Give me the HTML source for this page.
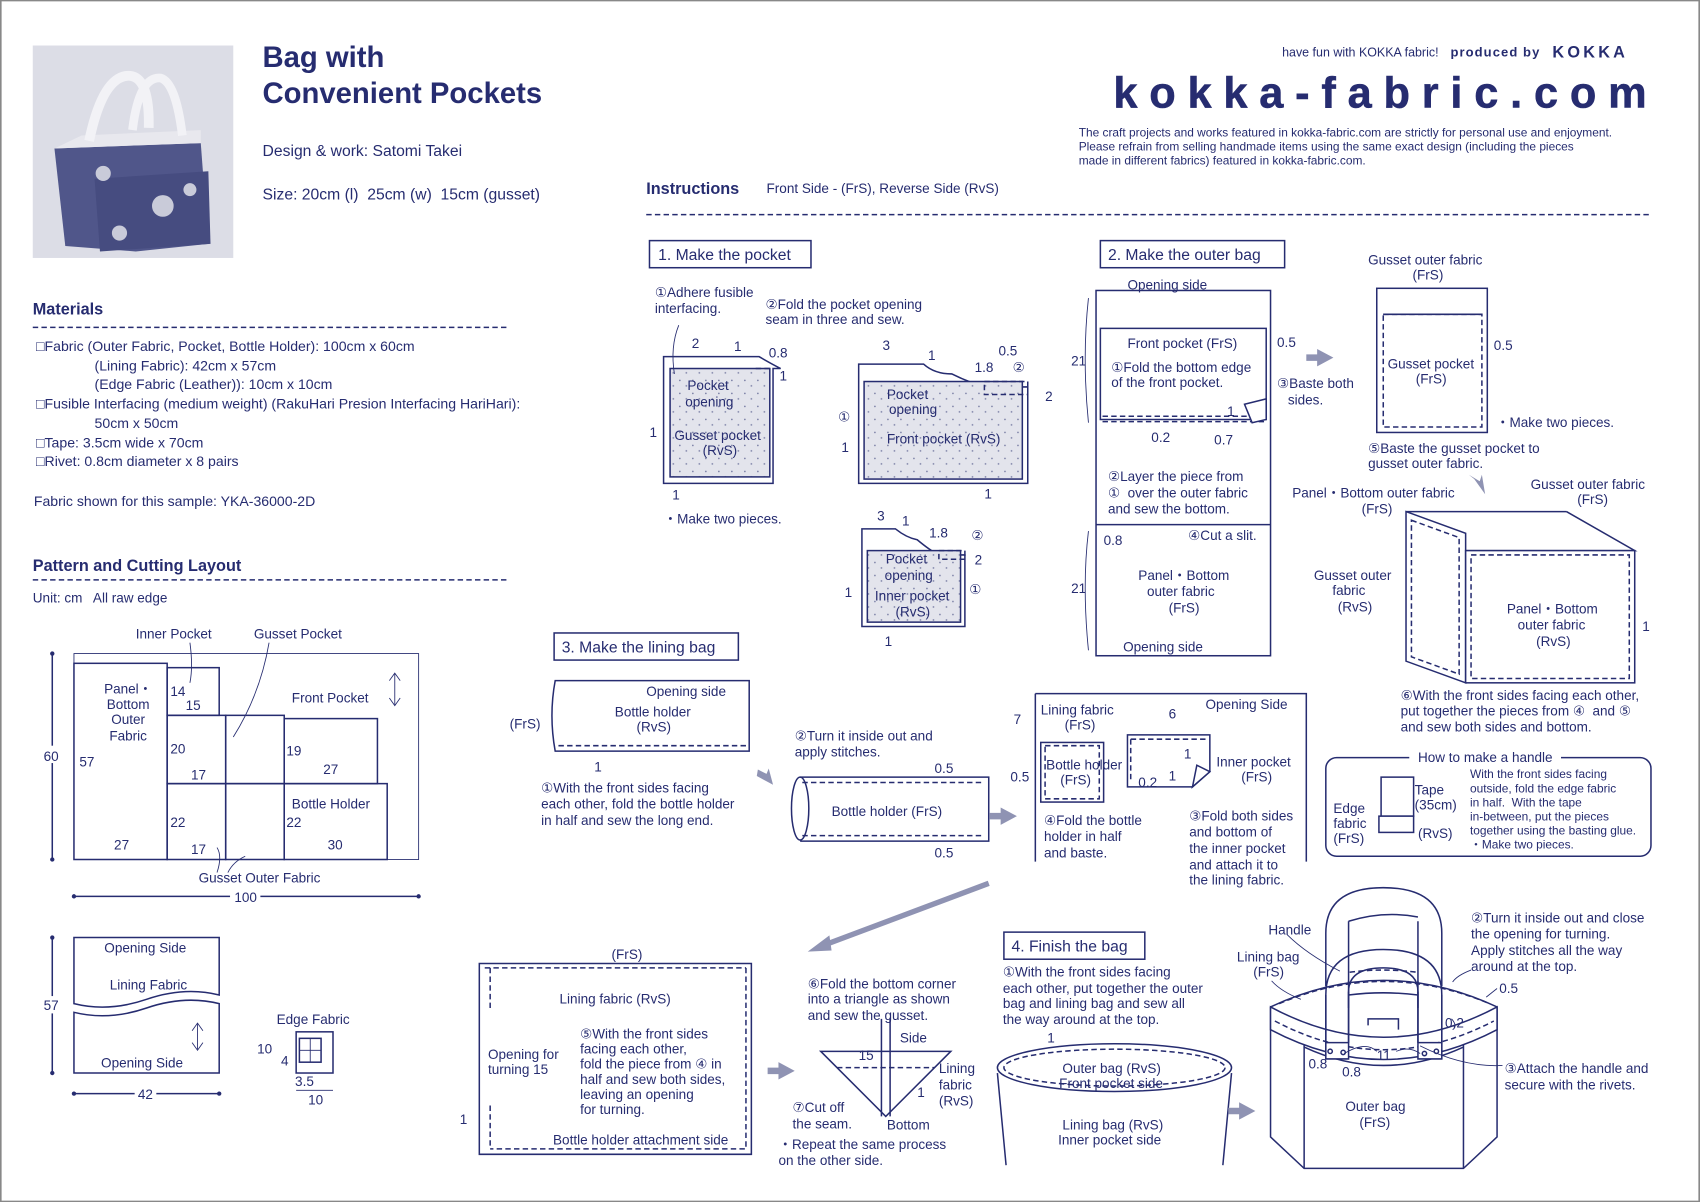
<!DOCTYPE html>
<html><head><meta charset="utf-8"><style>
html,body{margin:0;padding:0;background:#fff}
svg{display:block}
text{font-family:"Liberation Sans","DejaVu Sans",sans-serif;fill:#262c70;font-size:12.5px;white-space:pre}
.b{font-weight:bold}
.s{stroke:#262c70;stroke-width:1.4;fill:none}
.sf{stroke:#262c70;stroke-width:1.4;fill:#fff}
.d{stroke:#262c70;stroke-width:1.4;fill:none;stroke-dasharray:5 3}
.th{stroke:#262c70;stroke-width:0.8;fill:none}
.ar{fill:#8f93b3}
</style></head><body>
<svg width="1700" height="1202" viewBox="0 0 1568 1109" xmlns="http://www.w3.org/2000/svg">
<rect x="0.5" y="0.5" width="1567" height="1108" fill="#fff" stroke="#888" stroke-width="1.5"/>
<defs><pattern id="pd" width="12" height="12" patternUnits="userSpaceOnUse"><rect width="12" height="12" fill="#e3e4ec"/><circle cx="3" cy="3" r="0.8" fill="#7a7fa5"/><circle cx="9" cy="8" r="0.8" fill="#7a7fa5"/></pattern></defs>

<!-- photo -->
<rect x="30" y="42" width="185" height="196" fill="#dcdde6"/>
<path d="M50 137 L185 132 L192 225 L125 232 L60 227 Z" fill="#50568a"/>
<path d="M50 137 L75 125 L185 120 L185 132" fill="#e8e8ee"/>
<path d="M87 165 L192 158 L194 225 L92 232 Z" fill="#464c80"/>
<path d="M82 130 Q95 68 120 70 Q138 72 137 118" fill="none" stroke="#f2f2f6" stroke-width="9"/>
<path d="M122 120 Q128 70 148 72 Q162 76 168 125" fill="none" stroke="#f2f2f6" stroke-width="8"/>
<circle cx="150" cy="190" r="10" fill="#c9cbd9"/><circle cx="95" cy="160" r="7" fill="#c9cbd9"/><circle cx="110" cy="215" r="7" fill="#c9cbd9"/><circle cx="175" cy="175" r="6" fill="#c9cbd9"/>

<text x="242" y="62" class="b" style="font-size:27px">Bag with</text>
<text x="242" y="95" class="b" style="font-size:27px">Convenient Pockets</text>
<text x="242" y="144" style="font-size:14.5px">Design &amp; work: Satomi Takei</text>
<text x="242" y="184" style="font-size:14.5px">Size: 20cm (l)  25cm (w)  15cm (gusset)</text>

<text x="1327" y="52" text-anchor="end" style="font-size:11.5px">have fun with KOKKA fabric!</text>
<text x="1338" y="52" style="font-size:12px;letter-spacing:1px" class="b">produced by</text>
<text x="1432" y="53" style="font-size:15px;letter-spacing:3px" class="b">KOKKA</text>
<text x="1027" y="99" textLength="492" lengthAdjust="spacing" style="font-size:40px;font-weight:bold;stroke:#262c70;stroke-width:0.5">kokka-fabric.com</text>
<text x="995" y="126" style="font-size:11px">The craft projects and works featured in kokka-fabric.com are strictly for personal use and enjoyment.</text>
<text x="995" y="139" style="font-size:11px">Please refrain from selling handmade items using the same exact design (including the pieces</text>
<text x="995" y="152" style="font-size:11px">made in different fabrics) featured in kokka-fabric.com.</text>

<text x="596" y="179" class="b" style="font-size:15px">Instructions</text>
<text x="707" y="178">Front Side - (FrS), Reverse Side (RvS)</text>
<line x1="596" y1="198" x2="1523" y2="198" class="d"/>

<!-- Materials -->
<text x="30" y="290" class="b" style="font-size:15px">Materials</text>
<line x1="30" y1="302" x2="470" y2="302" class="d"/>
<text x="33" y="324" style="font-size:13px">□Fabric (Outer Fabric, Pocket, Bottle Holder): 100cm x 60cm</text>
<text x="87" y="342" style="font-size:13px">(Lining Fabric): 42cm x 57cm</text>
<text x="87" y="359" style="font-size:13px">(Edge Fabric (Leather)): 10cm x 10cm</text>
<text x="33" y="377" style="font-size:13px">□Fusible Interfacing (medium weight) (RakuHari Presion Interfacing HariHari):</text>
<text x="87" y="395" style="font-size:13px">50cm x 50cm</text>
<text x="33" y="413" style="font-size:13px">□Tape: 3.5cm wide x 70cm</text>
<text x="33" y="430" style="font-size:13px">□Rivet: 0.8cm diameter x 8 pairs</text>
<text x="31" y="467" style="font-size:13px">Fabric shown for this sample: YKA-36000-2D</text>

<text x="30" y="527" class="b" style="font-size:15px">Pattern and Cutting Layout</text>
<line x1="30" y1="535" x2="470" y2="535" class="d"/>
<text x="30" y="556">Unit: cm   All raw edge</text>

<!-- cutting layout -->
<rect x="68" y="603" width="318" height="190" class="th"/>
<rect x="68" y="612" width="86" height="181" class="s"/>
<rect x="154" y="616" width="48" height="44" class="s"/>
<rect x="154" y="660" width="54" height="63" class="s"/>
<rect x="208" y="660" width="54" height="63" class="s"/>
<rect x="262" y="663" width="86" height="60" class="s"/>
<rect x="154" y="723" width="54" height="70" class="s"/>
<rect x="208" y="723" width="54" height="70" class="s"/>
<rect x="262" y="723" width="95" height="70" class="s"/>
<text x="118" y="640" text-anchor="middle">Panel・</text>
<text x="118" y="654" text-anchor="middle">Bottom</text>
<text x="118" y="668" text-anchor="middle">Outer</text>
<text x="118" y="683" text-anchor="middle">Fabric</text>
<text x="73" y="707">57</text><text x="105" y="784">27</text>
<text x="157" y="642">14</text><text x="171" y="655">15</text>
<text x="157" y="695">20</text><text x="176" y="719">17</text>
<text x="157" y="763">22</text><text x="176" y="788">17</text>
<text x="264" y="697">19</text><text x="298" y="714">27</text>
<text x="264" y="763">22</text><text x="302" y="784">30</text>
<text x="269" y="746">Bottle Holder</text>
<text x="269" y="648">Front Pocket</text>
<path d="M364 622 V650 M359 628 L364 621 L369 628 M359 644 L364 651 L369 644" class="th"/>
<text x="125" y="589">Inner Pocket</text>
<text x="234" y="589">Gusset Pocket</text>
<path d="M175 593 Q178 615 175 630 M248 593 Q240 640 215 680" class="th"/>
<text x="183" y="814">Gusset Outer Fabric</text>
<path d="M200 805 Q205 790 200 782 M210 805 Q215 795 226 790" class="th"/>
<path d="M48 603 V793" class="s"/><circle cx="48" cy="603" r="2" fill="#262c70"/><circle cx="48" cy="793" r="2" fill="#262c70"/>
<rect x="36" y="688" width="22" height="16" fill="#fff"/>
<text x="40" y="702">60</text>
<path d="M68 827 H386" class="s"/><circle cx="68" cy="827" r="2" fill="#262c70"/><circle cx="386" cy="827" r="2" fill="#262c70"/>
<rect x="212" y="820" width="28" height="16" fill="#fff"/>
<text x="216" y="832">100</text>

<path d="M68 865 H202 V918 Q170 910 135 922 Q100 934 68 926 Z" class="s"/>
<path d="M68 934 Q100 942 135 930 Q170 918 202 926 V990 H68 Z" class="s"/>
<text x="96" y="879">Opening Side</text>
<text x="101" y="913">Lining Fabric</text>
<text x="93" y="985">Opening Side</text>
<path d="M182 945 V968 M177 951 L182 944 L187 951 M177 962 L182 969 L187 962" class="th"/>
<path d="M48 865 V990" class="s"/><circle cx="48" cy="865" r="2" fill="#262c70"/><circle cx="48" cy="990" r="2" fill="#262c70"/>
<rect x="36" y="919" width="22" height="16" fill="#fff"/>
<text x="40" y="932">57</text>
<path d="M68 1009 H202" class="s"/><circle cx="68" cy="1009" r="2" fill="#262c70"/><circle cx="202" cy="1009" r="2" fill="#262c70"/>
<rect x="124" y="1002" width="20" height="16" fill="#fff"/>
<text x="127" y="1014">42</text>
<text x="255" y="945">Edge Fabric</text>
<rect x="273" y="952" width="34" height="38" class="s"/>
<rect x="276" y="958" width="20" height="22" class="s"/><path d="M286 958 V980 M276 969 H296" class="th"/>
<text x="237" y="972">10</text><text x="259" y="983">4</text>
<text x="272" y="1002">3.5</text>
<path d="M273 1006 H307" class="th"/>
<text x="284" y="1019">10</text>

<!-- Step 1 -->
<rect x="599" y="222" width="149" height="25" class="s"/>
<text x="607" y="240" style="font-size:14.5px">1. Make the pocket</text>
<text x="604" y="274">①Adhere fusible</text>
<text x="604" y="289">interfacing.</text>
<text x="706" y="285">②Fold the pocket opening</text>
<text x="706" y="299">seam in three and sew.</text>
<path d="M612 329 H700 Q712 336 720 340 H713 V446 H612 Z" class="s"/>
<rect x="618" y="340" width="92" height="100" fill="url(#pd)" stroke="#262c70" stroke-width="1.4"/>
<path d="M697 340 H713" class="d"/>
<text x="634" y="360">Pocket</text><text x="632" y="375">opening</text>
<text x="622" y="406">Gusset pocket</text><text x="648" y="420">(RvS)</text>
<text x="638" y="321">2</text><text x="677" y="324">1</text><text x="709" y="330">0.8</text><text x="719" y="351">1</text>
<text x="599" y="403">1</text><text x="620" y="461">1</text>
<text x="612" y="483">・Make two pieces.</text>
<path d="M626 300 Q618 320 622 345" class="th"/>

<path d="M792 336 H852 Q862 345 878 345 Q892 352 908 357 H948 V446 H792 Z" class="s"/>
<rect x="797" y="352" width="146" height="90" fill="url(#pd)" stroke="#262c70" stroke-width="1.4"/>
<rect x="908" y="352" width="40" height="12" class="d"/>
<text x="818" y="368">Pocket</text><text x="820" y="382">opening</text>
<text x="818" y="409">Front pocket (RvS)</text>
<text x="814" y="323">3</text><text x="856" y="332">1</text><text x="899" y="343">1.8</text><text x="921" y="328">0.5</text><text x="934" y="343">②</text><text x="964" y="370">2</text>
<text x="773" y="389">①</text><text x="776" y="417">1</text><text x="908" y="460">1</text>

<path d="M795 488 H826 Q836 496 846 498 Q858 508 866 512 H890 V578 H795 Z" class="s"/>
<rect x="800" y="508" width="86" height="66" fill="url(#pd)" stroke="#262c70" stroke-width="1.4"/>
<rect x="866" y="508" width="24" height="8" class="d"/>
<text x="817" y="520">Pocket</text><text x="816" y="535">opening</text>
<text x="807" y="554">Inner pocket</text><text x="826" y="569">(RvS)</text>
<text x="809" y="480">3</text><text x="832" y="485">1</text><text x="857" y="496">1.8</text><text x="896" y="498">②</text><text x="899" y="521">2</text><text x="894" y="548">①</text>
<text x="779" y="551">1</text><text x="816" y="596">1</text>

<!-- Step 2 -->
<rect x="1015" y="222" width="170" height="25" class="s"/>
<text x="1022" y="240" style="font-size:14.5px">2. Make the outer bag</text>
<rect x="1011" y="268" width="161" height="337" class="s"/>
<line x1="1011" y1="484" x2="1172" y2="484" class="s"/>
<path d="M1015 303 H1168 V387 H1015 Z" class="s"/>
<path d="M1017 384 H1166 M1017 389 H1166" class="d"/>
<path d="M1148 373 L1168 368 V387 L1155 390 Z" class="sf"/>
<text x="1040" y="267">Opening side</text>
<text x="1040" y="321">Front pocket (FrS)</text>
<text x="1025" y="343">①Fold the bottom edge</text>
<text x="1025" y="357">of the front pocket.</text>
<text x="1178" y="320">0.5</text>
<text x="1178" y="358">③Baste both</text><text x="1188" y="373">sides.</text>
<text x="1132" y="384">1</text>
<text x="1062" y="408">0.2</text><text x="1120" y="410">0.7</text>
<text x="988" y="337">21</text>
<path d="M1004 275 Q998 330 1004 390" class="th"/>
<text x="1022" y="444">②Layer the piece from</text>
<text x="1022" y="459">①  over the outer fabric</text>
<text x="1022" y="474">and sew the bottom.</text>
<text x="1096" y="498">④Cut a slit.</text>
<text x="1018" y="503">0.8</text>
<text x="1050" y="535">Panel・Bottom</text>
<text x="1058" y="550">outer fabric</text>
<text x="1078" y="565">(FrS)</text>
<text x="988" y="547">21</text>
<path d="M1004 490 Q998 540 1004 600" class="th"/>
<text x="1036" y="601">Opening side</text>
<path d="M1215 322 l15 8 l-15 8 v-5 h-10 v-6 h10z" class="ar"/>

<text x="1262" y="244">Gusset outer fabric</text>
<text x="1303" y="258">(FrS)</text>
<rect x="1270" y="266" width="102" height="133" class="s"/>
<rect x="1276" y="290" width="91" height="104" class="d"/>
<path d="M1276 290 H1367" class="s"/>
<text x="1280" y="340">Gusset pocket</text><text x="1306" y="354">(FrS)</text>
<text x="1378" y="323">0.5</text>
<text x="1380" y="394">・Make two pieces.</text>
<text x="1262" y="418">⑤Baste the gusset pocket to</text>
<text x="1262" y="432">gusset outer fabric.</text>
<path d="M1360 442 l10 14 l-3 -18 l-2 6 l-10 -6z" class="ar"/>
<text x="1192" y="459">Panel・Bottom outer fabric</text>
<text x="1256" y="474">(FrS)</text>
<text x="1412" y="451">Gusset outer fabric</text>
<text x="1455" y="465">(FrS)</text>
<path d="M1297 472 L1352 492 L1352 630 L1297 610 Z" class="s"/>
<path d="M1302 480 L1346 496 V622 L1302 606 Z" class="d"/>
<path d="M1445 472 L1508 508 L1352 508" class="s"/>
<path d="M1297 472 H1445" class="s"/>
<rect x="1352" y="508" width="156" height="122" class="sf"/>
<rect x="1357" y="512" width="146" height="114" class="d"/>
<text x="1212" y="535">Gusset outer</text><text x="1229" y="549">fabric</text><text x="1234" y="564">(RvS)</text>
<text x="1390" y="566">Panel・Bottom</text><text x="1400" y="581">outer fabric</text><text x="1417" y="596">(RvS)</text>
<text x="1515" y="582">1</text>
<text x="1292" y="646">⑥With the front sides facing each other,</text>
<text x="1292" y="660">put together the pieces from ④  and ⑤</text>
<text x="1292" y="675">and sew both sides and bottom.</text>

<!-- handle box -->
<rect x="1223" y="699" width="300" height="91" rx="10" class="s"/>
<rect x="1300" y="692" width="140" height="14" fill="#fff"/>
<text x="1308" y="703">How to make a handle</text>
<rect x="1274" y="717" width="30" height="36" class="s"/>
<rect x="1272" y="753" width="32" height="15" class="sf"/>
<text x="1305" y="733">Tape</text><text x="1305" y="747">(35cm)</text>
<text x="1230" y="750">Edge</text><text x="1230" y="764">fabric</text><text x="1230" y="778">(FrS)</text>
<text x="1308" y="773">(RvS)</text>
<text x="1356" y="718" style="font-size:11px">With the front sides facing</text>
<text x="1356" y="731" style="font-size:11px">outside, fold the edge fabric</text>
<text x="1356" y="744" style="font-size:11px">in half.  With the tape</text>
<text x="1356" y="757" style="font-size:11px">in-between, put the pieces</text>
<text x="1356" y="770" style="font-size:11px">together using the basting glue.</text>
<text x="1356" y="783" style="font-size:11px">・Make two pieces.</text>

<!-- Step 3 -->
<rect x="511" y="584" width="170" height="25" class="s"/>
<text x="518" y="602" style="font-size:14.5px">3. Make the lining bag</text>
<path d="M512 628 H691 V693 H512 Q506 660 512 628 Z" class="s"/>
<line x1="515" y1="688" x2="689" y2="688" class="d"/>
<text x="596" y="642">Opening side</text>
<text x="567" y="661">Bottle holder</text><text x="587" y="675">(RvS)</text>
<text x="470" y="672">(FrS)</text>
<text x="548" y="712">1</text>
<text x="499" y="731">①With the front sides facing</text>
<text x="499" y="746">each other, fold the bottle holder</text>
<text x="499" y="761">in half and sew the long end.</text>
<path d="M698 716 l15 8 l-4 -15 l-2 5 l-8 -4z" class="ar"/>
<text x="733" y="683">②Turn it inside out and</text>
<text x="733" y="698">apply stitches.</text>
<path d="M738 717 H912 V776 H738" class="s"/>
<ellipse cx="738" cy="746" rx="8" ry="29" class="s"/>
<path d="M740 722 H908 M740 771 H908" class="d"/>
<text x="767" y="753">Bottle holder (FrS)</text>
<text x="862" y="713">0.5</text><text x="862" y="791">0.5</text>
<path d="M923 745 l15 8 l-15 8 v-5 h-10 v-6 h10z" class="ar"/>

<path d="M955 640 H1205 V795 M955 640 V795" class="s"/>
<text x="960" y="659">Lining fabric</text><text x="982" y="673">(FrS)</text>
<text x="1112" y="654">Opening Side</text>
<text x="935" y="668">7</text><text x="1078" y="663">6</text>
<rect x="960" y="685" width="58" height="55" class="sf"/>
<rect x="964" y="688" width="50" height="49" class="d"/>
<text x="965" y="710">Bottle holder</text><text x="978" y="724">(FrS)</text>
<text x="932" y="721">0.5</text>
<path d="M1040 678 H1116 V712 L1100 726 H1040 Z" class="sf"/>
<path d="M1043 682 H1112 M1043 682 V722" class="d"/>
<path d="M1100 726 L1116 712 L1104 706 Z" class="sf"/>
<text x="1092" y="700">1</text><text x="1078" y="720">1</text>
<text x="1122" y="707">Inner pocket</text><text x="1145" y="721">(FrS)</text>
<text x="1050" y="726">0.2</text>
<text x="963" y="761">④Fold the bottle</text><text x="963" y="776">holder in half</text><text x="963" y="791">and baste.</text>
<text x="1097" y="757">③Fold both sides</text><text x="1097" y="772">and bottom of</text><text x="1097" y="787">the inner pocket</text><text x="1097" y="802">and attach it to</text><text x="1097" y="816">the lining fabric.</text>

<path d="M912 815 L760 872" stroke="#8f93b3" stroke-width="5"/>
<path d="M745 878 l20 -15 l2 14 z" class="ar"/>

<text x="564" y="885">(FrS)</text>
<path d="M442 889 H693 V1065 H442 Z" class="s"/>
<path d="M447 893 H688 M688 893 V1060 H452 M452 893 V930 M452 1020 V1060" class="d"/>
<text x="516" y="926">Lining fabric (RvS)</text>
<text x="535" y="958">⑤With the front sides</text>
<text x="535" y="972">facing each other,</text>
<text x="535" y="986">fold the piece from ④ in</text>
<text x="535" y="1000">half and sew both sides,</text>
<text x="535" y="1014">leaving an opening</text>
<text x="535" y="1028">for turning.</text>
<text x="450" y="977">Opening for</text><text x="450" y="991">turning 15</text>
<text x="510" y="1056">Bottle holder attachment side</text>
<text x="424" y="1037">1</text>
<path d="M718 980 l15 8 l-15 8 v-5 h-10 v-6 h10z" class="ar"/>

<text x="745" y="912">⑥Fold the bottom corner</text>
<text x="745" y="926">into a triangle as shown</text>
<text x="745" y="941">and sew the gusset.</text>
<path d="M757 970 L877 970 L817 1030 Z" class="s"/>
<line x1="772" y1="985" x2="862" y2="985" class="d"/>
<path d="M813 940 V1030 M821 940 V1030" class="s"/>
<text x="830" y="962">Side</text><text x="792" y="978">15</text>
<text x="866" y="990">Lining</text><text x="866" y="1005">fabric</text><text x="866" y="1020">(RvS)</text>
<text x="846" y="1012">1</text>
<text x="731" y="1026">⑦Cut off</text><text x="731" y="1041">the seam.</text>
<text x="818" y="1042">Bottom</text>
<text x="718" y="1060">・Repeat the same process</text>
<text x="718" y="1075">on the other side.</text>

<!-- Step 4 -->
<rect x="926" y="860" width="130" height="25" class="s"/>
<text x="933" y="878" style="font-size:14.5px">4. Finish the bag</text>
<text x="925" y="901">①With the front sides facing</text>
<text x="925" y="916">each other, put together the outer</text>
<text x="925" y="930">bag and lining bag and sew all</text>
<text x="925" y="945">the way around at the top.</text>
<ellipse cx="1028" cy="985" rx="108" ry="22" class="s"/>
<ellipse cx="1028" cy="985" rx="102" ry="17" class="d"/>
<path d="M920 990 L928 1075 M1136 990 L1128 1075" class="s"/>
<text x="980" y="990">Outer bag (RvS)</text>
<text x="977" y="1004">Front pocket side</text>
<text x="980" y="1042">Lining bag (RvS)</text>
<text x="976" y="1056">Inner pocket side</text>
<text x="966" y="962">1</text>
<path d="M1143 1017 l15 8 l-15 8 v-5 h-10 v-6 h10z" class="ar"/>

<!-- final bag -->
<path d="M1223 910 V861 Q1223 819 1276 819 Q1330 819 1330 861 V910" class="s"/>
<path d="M1244 910 V850 M1308 910 V850 M1244 850 Q1276 840 1308 846" class="s"/>
<path d="M1172 929 L1172 1049 L1203 1078 H1350 L1381 1049 L1381 929" class="sf"/>
<path d="M1203 963 V1078 M1350 963 V1078" class="s"/>
<path d="M1203 966 Q1276 1000 1350 966" class="s"/>
<path d="M1172 929 Q1276 880 1381 929" class="sf"/>
<path d="M1180 926 Q1276 885 1374 926" class="d"/>
<path d="M1172 929 Q1276 985 1381 929 V950 Q1276 1005 1172 950 Z" class="sf"/>
<path d="M1176 942 Q1276 995 1378 942" class="d"/>
<path d="M1244 905 V930 M1308 905 V930 M1244 918 Q1276 914 1308 918" class="s"/>
<path d="M1245 897 Q1276 893 1307 897" class="d"/>
<path d="M1262 946 V940 H1290 V950" class="s"/>
<path d="M1223 977 V918 Q1223 876 1276 876 Q1330 876 1330 918 V977" class="s"/>
<path d="M1244 962 V915 Q1244 893 1276 893 Q1308 893 1308 915 V962" class="s"/>
<path d="M1223 962 H1244 V977 H1223 Z M1308 962 H1330 V977 H1308 Z" class="sf"/>
<path d="M1223 918 V962 M1244 915 V962 M1308 915 V962 M1330 918 V962" class="s"/>
<circle cx="1227" cy="970" r="2" class="s"/><circle cx="1239" cy="971" r="2" class="s"/>
<circle cx="1314" cy="972" r="2" class="s"/><circle cx="1325" cy="970" r="2" class="s"/>
<path d="M1187 862 Q1205 880 1236 896 M1173 905 Q1182 915 1200 922 M1310 965 Q1350 985 1386 983 M1240 972 Q1260 960 1270 970 M1288 970 Q1300 965 1310 972 M1339 940 Q1345 947 1340 950 M1357 895 Q1344 900 1340 906 M1381 912 L1371 920" class="th"/>
<text x="1170" y="862">Handle</text>
<text x="1141" y="887">Lining bag</text><text x="1156" y="901">(FrS)</text>
<text x="1357" y="851">②Turn it inside out and close</text>
<text x="1357" y="866">the opening for turning.</text>
<text x="1357" y="881">Apply stitches all the way</text>
<text x="1357" y="896">around at the top.</text>
<text x="1383" y="916">0.5</text>
<text x="1333" y="948">0.2</text>
<text x="1388" y="990">③Attach the handle and</text>
<text x="1388" y="1005">secure with the rivets.</text>
<text x="1207" y="986">0.8</text><text x="1238" y="993">0.8</text><text x="1270" y="978">11</text>
<text x="1241" y="1025">Outer bag</text><text x="1254" y="1040">(FrS)</text>
</svg>
</body></html>
